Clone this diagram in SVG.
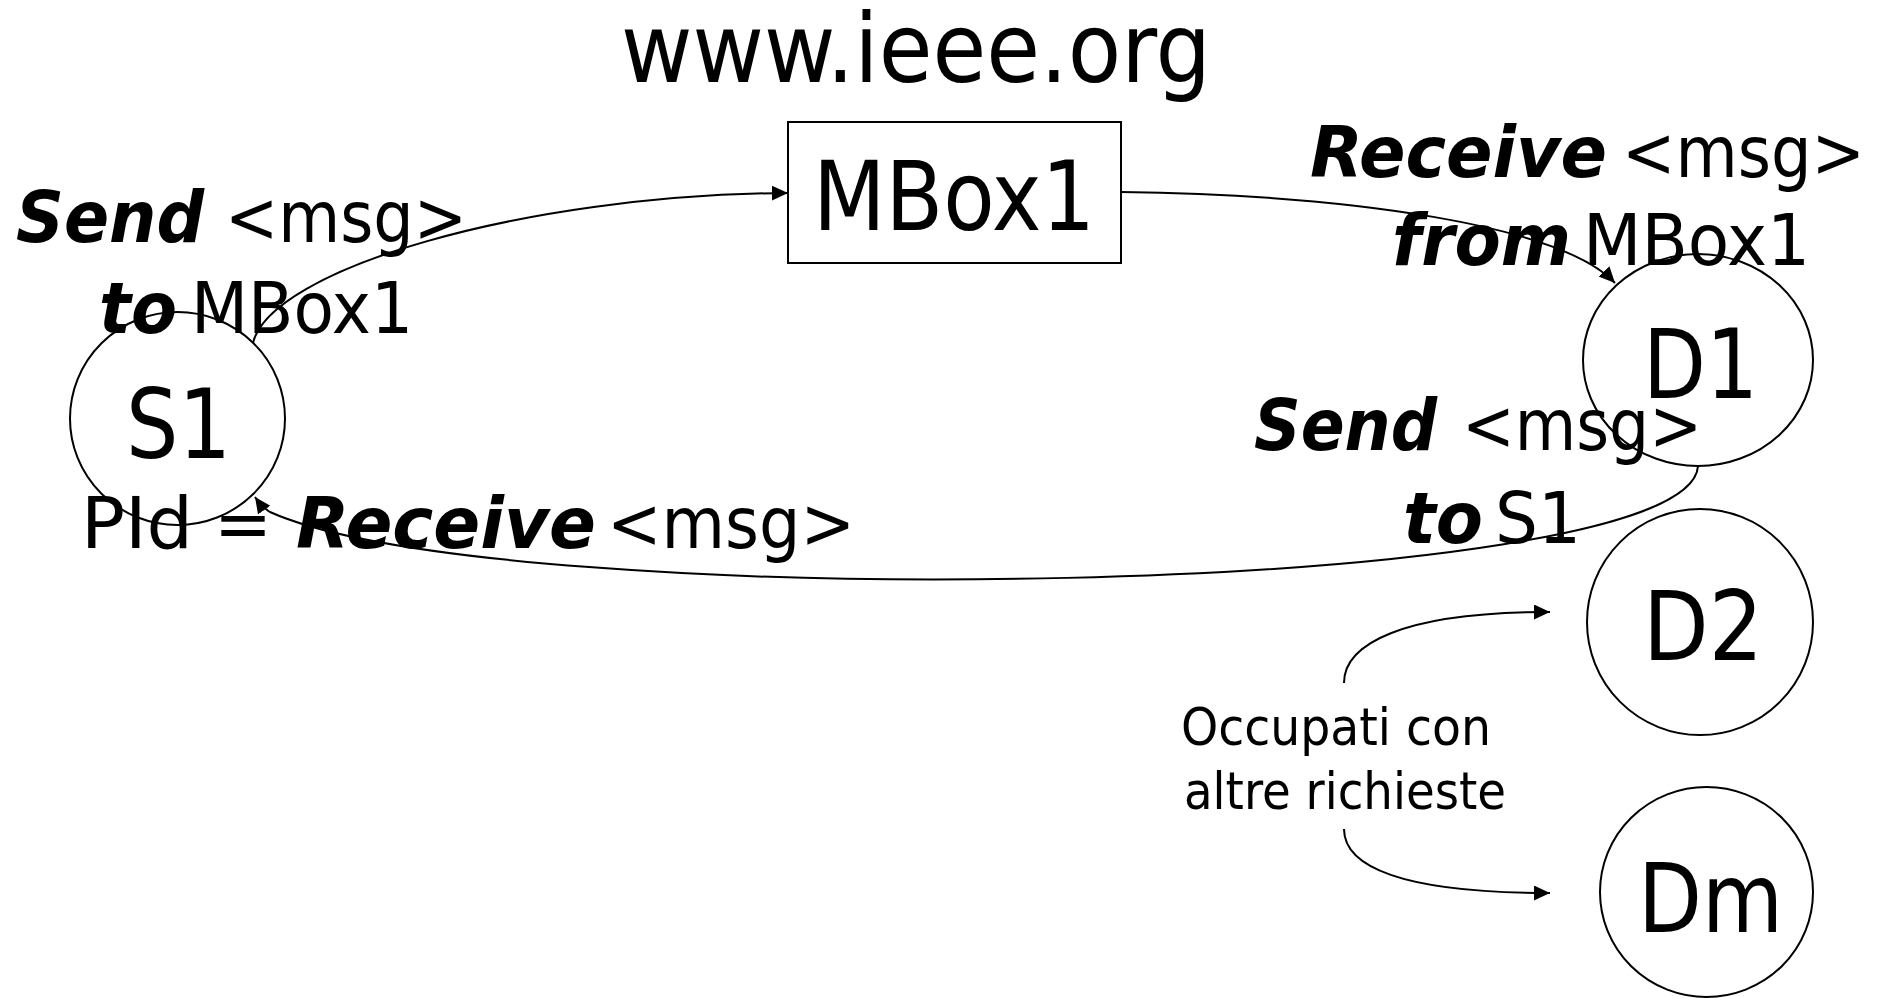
<svg xmlns="http://www.w3.org/2000/svg" width="1879" height="998" viewBox="0 0 1879 998">
  <style>
    text { font-family: "DejaVu Sans Condensed", "DejaVu Sans", sans-serif; font-stretch: condensed; fill: #000; }
    .big { font-size: 96px; }
    .lbl { font-size: 72px; }
    .kw { font-size: 72px; font-weight: bold; font-style: italic; }
    .note { font-size: 51px; }
    .shape { fill: none; stroke: #000; stroke-width: 2; }
    .wire { fill: none; stroke: #000; stroke-width: 2; marker-end: url(#arrow); }
  </style>
  <defs>
    <marker id="arrow" markerUnits="userSpaceOnUse" markerWidth="18" markerHeight="16" refX="16" refY="7.5" orient="auto">
      <path d="M0,0 L16,7.5 L0,15 z" fill="#000"/>
    </marker>
  </defs>

  <rect width="1879" height="998" fill="#fff"/>

  <!-- site caption -->
  <text class="big" x="621" y="82" textLength="590" lengthAdjust="spacingAndGlyphs">www.ieee.org</text>

  <!-- mailbox -->
  <g id="mbox1">
    <rect class="shape" x="788" y="122" width="333" height="141"/>
    <text class="big" x="813" y="230" textLength="282" lengthAdjust="spacingAndGlyphs">MBox1</text>
  </g>

  <!-- sender -->
  <g id="s1">
    <ellipse class="shape" cx="177.5" cy="418.5" rx="107.5" ry="106.5"/>
    <text class="big" x="126" y="458" textLength="105" lengthAdjust="spacingAndGlyphs">S1</text>
  </g>

  <!-- daemons -->
  <g id="d1">
    <ellipse class="shape" cx="1698" cy="360" rx="115" ry="106"/>
    <text class="big" x="1643" y="398" textLength="115" lengthAdjust="spacingAndGlyphs">D1</text>
  </g>
  <g id="d2">
    <ellipse class="shape" cx="1700" cy="622" rx="113" ry="113"/>
    <text class="big" x="1643" y="660" textLength="120" lengthAdjust="spacingAndGlyphs">D2</text>
  </g>
  <g id="dm">
    <ellipse class="shape" cx="1706.5" cy="892" rx="106.5" ry="105"/>
    <text class="big" x="1638" y="932" textLength="145" lengthAdjust="spacingAndGlyphs">Dm</text>
  </g>

  <!-- operation labels -->
  <g id="label-send-s1">
    <text class="kw" x="16" y="242" textLength="188" lengthAdjust="spacingAndGlyphs">Send</text>
    <text class="lbl" x="225" y="242" textLength="242" lengthAdjust="spacingAndGlyphs">&lt;msg&gt;</text>
    <text class="kw" x="99" y="333" textLength="78" lengthAdjust="spacingAndGlyphs">to</text>
    <text class="lbl" x="191" y="333" textLength="222" lengthAdjust="spacingAndGlyphs">MBox1</text>
  </g>
  <g id="label-receive-s1">
    <text class="lbl" x="81" y="548" textLength="112" lengthAdjust="spacingAndGlyphs">PId</text>
    <text class="lbl" x="214" y="548" textLength="58" lengthAdjust="spacingAndGlyphs">=</text>
    <text class="kw" x="296" y="548" textLength="300" lengthAdjust="spacingAndGlyphs">Receive</text>
    <text class="lbl" x="607" y="548" textLength="248" lengthAdjust="spacingAndGlyphs">&lt;msg&gt;</text>
  </g>
  <g id="label-receive-d1">
    <text class="kw" x="1310" y="177" textLength="297" lengthAdjust="spacingAndGlyphs">Receive</text>
    <text class="lbl" x="1622" y="177" textLength="243" lengthAdjust="spacingAndGlyphs">&lt;msg&gt;</text>
    <text class="kw" x="1392" y="265" textLength="179" lengthAdjust="spacingAndGlyphs">from</text>
    <text class="lbl" x="1583" y="265" textLength="227" lengthAdjust="spacingAndGlyphs">MBox1</text>
  </g>
  <g id="label-send-d1">
    <text class="kw" x="1254" y="450" textLength="183" lengthAdjust="spacingAndGlyphs">Send</text>
    <text class="lbl" x="1462" y="450" textLength="240" lengthAdjust="spacingAndGlyphs">&lt;msg&gt;</text>
    <text class="kw" x="1403" y="543" textLength="80" lengthAdjust="spacingAndGlyphs">to</text>
    <text class="lbl" x="1495" y="543" textLength="86" lengthAdjust="spacingAndGlyphs">S1</text>
  </g>
  <g id="label-busy">
    <text class="note" x="1181" y="745" textLength="310" lengthAdjust="spacingAndGlyphs">Occupati con</text>
    <text class="note" x="1184" y="809" textLength="322" lengthAdjust="spacingAndGlyphs">altre richieste</text>
  </g>

  <!-- message flow -->
  <g id="connectors">
    <path class="wire" d="M253,343 C270,270 520,195 788,193"/>
    <path class="wire" d="M1121,192 C1350,195 1560,225 1615,283"/>
    <path class="wire" d="M1698,466 C1690,600 500,615 270,512 Q262,507 255,497"/>
    <path class="wire" d="M1344,683 C1344,645 1400,612 1550,612"/>
    <path class="wire" d="M1344,829 C1344,866 1400,893 1550,893"/>
  </g>
</svg>
